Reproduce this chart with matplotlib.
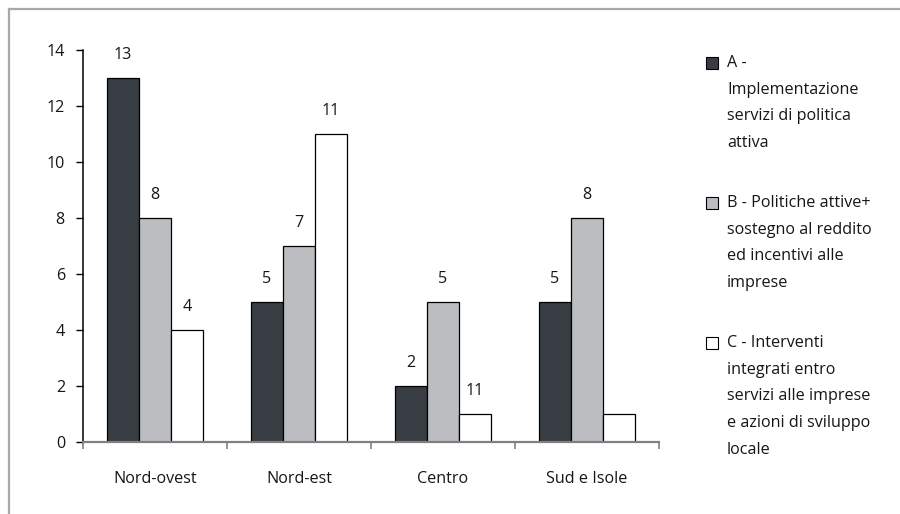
import matplotlib
matplotlib.use("Agg")
import matplotlib.pyplot as plt
from matplotlib.patches import Rectangle
from matplotlib.lines import Line2D
import numpy as np

plt.rcParams['font.family'] = ['Open Sans', 'DejaVu Sans']

# Data
regions = ["Nord-ovest", "Nord-est", "Centro", "Sud e Isole"]
series_names = ["A", "B", "C"]
values_A = [13, 5, 2, 5]
values_B = [8, 7, 5, 8]
values_C = [4, 11, 1, 1]
# value labels printed above each bar (as published)
labels_A = ["13", "5", "2", "5"]
labels_B = ["8", "7", "5", "8"]
labels_C = ["4", "11", "11", ""]
legend_lines = [
    ["A -", "Implementazione", "servizi di politica", "attiva"],
    ["B - Politiche attive+", "sostegno al reddito", "ed incentivi alle", "imprese"],
    ["C - Interventi", "integrati entro", "servizi alle imprese", "e azioni di sviluppo", "locale"],
]
y_ticks = [0, 2, 4, 6, 8, 10, 12, 14]

colors = ["#383d44", "#bbbdc1", "#ffffff"]
text_col = "#161616"

W, H = 900, 514
fig = plt.figure(figsize=(W / 100, H / 100), dpi=100)
fig.patch.set_facecolor("white")

# outer frame (top and left edges)
frame_col = "#a8a8a8"
fig.add_artist(Line2D([9 / W, 9 / W], [0, 1 - 8.5 / H], transform=fig.transFigure,
                      color=frame_col, lw=1.6))
fig.add_artist(Line2D([9 / W, 1], [1 - 8.5 / H, 1 - 8.5 / H], transform=fig.transFigure,
                      color=frame_col, lw=1.6))

ax = fig.add_axes([83 / W, 72 / H, (659 - 83) / W, (442 - 50) / H])

x = np.arange(len(regions))
bw = 0.222
all_vals = [values_A, values_B, values_C]
all_labels = [labels_A, labels_B, labels_C]
fs = 11.6
for i, (vals, labs, col) in enumerate(zip(all_vals, all_labels, colors)):
    pos = x + (i - 1) * bw
    ax.bar(pos, vals, width=bw, color=col, edgecolor="black", linewidth=0.9, zorder=2)
    for px, v, lab in zip(pos, vals, labs):
        if lab:
            ax.annotate(lab, (px, v), xytext=(0, 23), textcoords="offset pixels",
                        ha="center", va="center", fontsize=fs, color=text_col)

ax.set_xlim(-0.5, len(regions) - 0.5)
ax.set_ylim(0, 14)
ax.set_yticks(y_ticks)
ax.set_yticklabels([str(t) for t in y_ticks], fontsize=fs, color=text_col)

# category labels centred, ticks at category boundaries
ax.set_xticks(x)
ax.set_xticklabels(regions, fontsize=fs, color=text_col)
ax.tick_params(axis="x", which="major", length=0, pad=21)
ax.set_xticks(np.arange(-0.5, len(regions), 1.0), minor=True)
ax.tick_params(axis="x", which="minor", length=5, width=1.2, color="#808080", direction="out")
ax.tick_params(axis="y", length=5, width=1.0, color="black", direction="out", pad=8)

for s in ["top", "right"]:
    ax.spines[s].set_visible(False)
ax.spines["left"].set_color("black")
ax.spines["left"].set_linewidth(1.1)
ax.spines["bottom"].set_color("#808080")
ax.spines["bottom"].set_linewidth(1.6)
ax.set_facecolor("white")

# legend drawn entry by entry
entry_tops = [63, 203, 343]
line_gap = 26.7
sq = 12
for name_lines, top, col in zip(legend_lines, entry_tops, colors):
    fig.add_artist(Rectangle((706 / W, 1 - (top + sq / 2) / H), sq / W, sq / H,
                             transform=fig.transFigure, facecolor=col,
                             edgecolor="black", linewidth=0.8))
    for k, line in enumerate(name_lines):
        fig.text(727 / W, 1 - (top + k * line_gap) / H, line, fontsize=fs,
                 ha="left", va="center", color=text_col)

fig.savefig("out.png", dpi=100, facecolor="white")
